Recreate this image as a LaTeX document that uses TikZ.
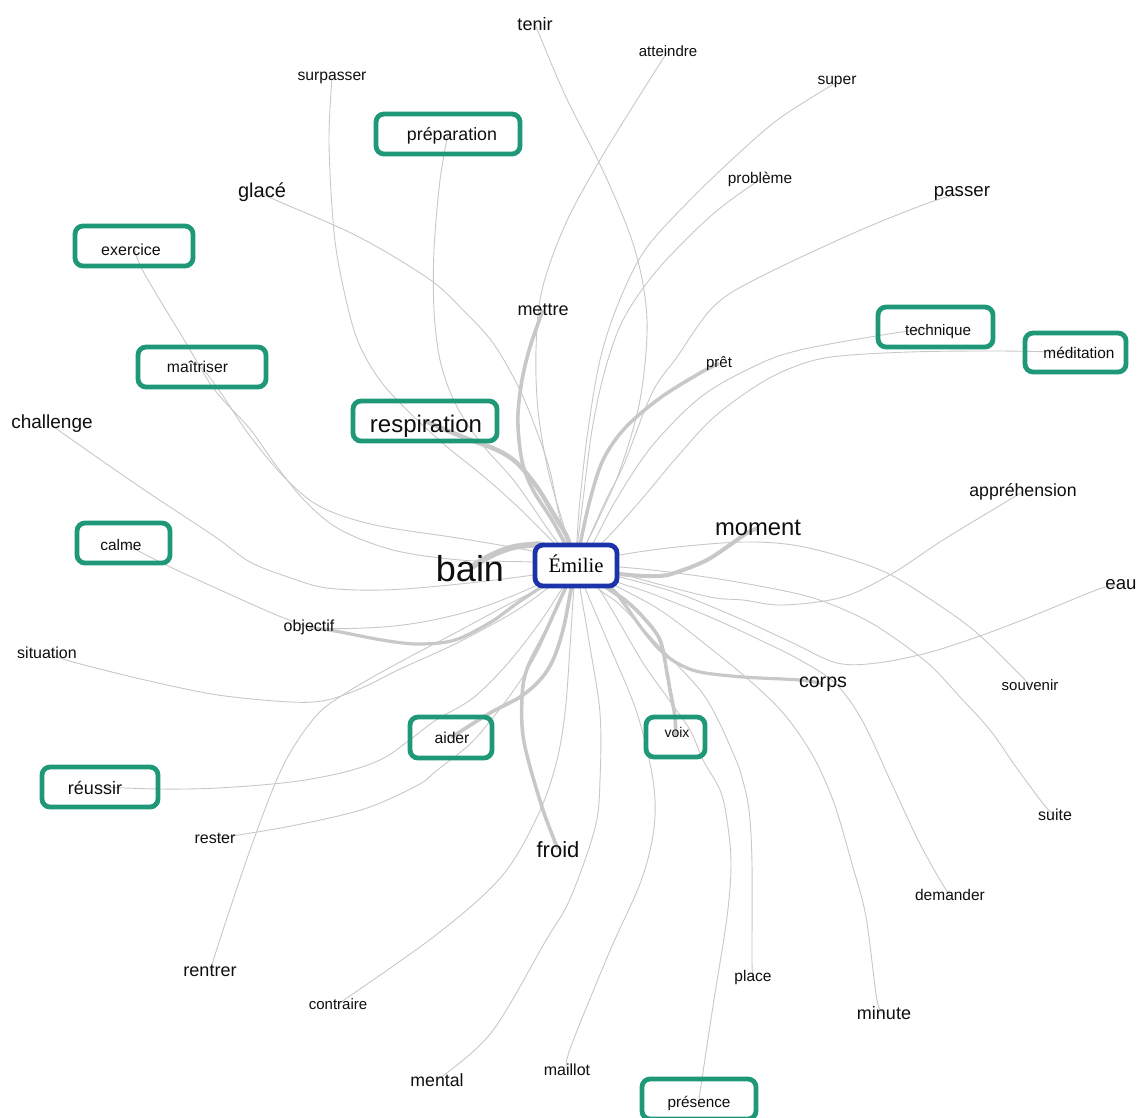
\documentclass[tikz,border=0pt]{standalone}
\usepackage{fontspec}
\setmainfont{Liberation Sans}
\newfontfamily\emfont{Liberation Serif}
\usetikzlibrary{backgrounds}
\definecolor{grn}{RGB}{31,152,120}
\definecolor{blu}{RGB}{28,52,170}
\definecolor{edg}{RGB}{200,200,200}
\definecolor{txt}{RGB}{15,15,15}
\begin{document}
\begin{tikzpicture}[x=1pt,y=-1pt,
  wd/.style={font=\fontsize{#1}{#1}\selectfont, inner sep=0pt, anchor=base, text=txt},
  bx/.style={draw=grn, line width=4.8pt, rounded corners=8pt, inner sep=0pt, text=txt,
             font=\fontsize{#1}{#1}\selectfont, text height=0.72*#1 pt, text depth=0pt},
  edge/.style={draw=edg, line width=0.9pt},
  thk/.style={draw=edg, line width=#1},
  sm/.style={smooth, tension=0.55}
]
\useasboundingbox (0,0) rectangle (1137,1117);

% ---- word nodes
\node[wd=18]   (tenir)      at (535,30.5)  {tenir};
\node[wd=15]   (atteindre)  at (668,56.4)  {atteindre};
\node[wd=15.7] (surpasser)  at (332,80.6)  {surpasser};
\node[wd=15.6] (super)      at (837,84.6)  {super};
\node[wd=20]   (glace)      at (262,197.2) {glacé};
\node[wd=15.4] (probleme)   at (760,183.5) {problème};
\node[wd=18.7] (passer)     at (962,196.7) {passer};
\node[wd=18]   (mettre)     at (543,315.5) {mettre};
\node[wd=15]   (pret)       at (719,367.4) {prêt};
\node[wd=19]   (challenge)  at (52,428.8)  {challenge};
\node[wd=17.7] (apprehension) at (1023,496.4) {appréhension};
\node[wd=23.8] (moment)     at (758,535.6) {moment};
\node[wd=36]   (bain)       at (470,581)   {bain};
\node[wd=18.6] (eau)        at (1121,589.7) {eau};
\node[wd=16]   (objectif)   at (309,631.8) {objectif};
\node[wd=16]   (situation)  at (47,658.8)  {situation};
\node[wd=19.6] (corps)      at (823,687)   {corps};
\node[wd=15]   (souvenir)   at (1030,690.4) {souvenir};
\node[wd=16]   (rester)     at (215,843.8) {rester};
\node[wd=16]   (suite)      at (1055,820.8) {suite};
\node[wd=22]   (froid)      at (558,857)   {froid};
\node[wd=15.5] (demander)   at (950,900.6) {demander};
\node[wd=18]   (rentrer)    at (210,976.5) {rentrer};
\node[wd=15.5] (place)      at (753,981.6) {place};
\node[wd=15]   (contraire)  at (338,1009.4) {contraire};
\node[wd=18]   (minute)     at (884,1019.5) {minute};
\node[wd=17.7] (mental)     at (437,1086.4) {mental};
\node[wd=16]   (maillot)    at (567,1075.8) {maillot};

% ---- boxed nodes
\node[bx=17.8, minimum width=144, minimum height=40] (prep)       at (448,134)    {\hspace*{8pt}préparation};
\node[bx=16,   minimum width=118, minimum height=40, text height=19.5pt] (exercice) at (134,246) {exercice\hspace*{6pt}};
\node[bx=15.2, minimum width=115, minimum height=40, text height=16.9pt] (technique) at (935.5,327) {\hspace*{5pt}technique};
\node[bx=15.4, minimum width=101, minimum height=39] (meditation) at (1075.5,352.5) {\hspace*{7pt}méditation};
\node[bx=15.7, minimum width=128, minimum height=40] (maitriser)  at (202,367)    {maîtriser\hspace*{9pt}};
\node[bx=24,   minimum width=144, minimum height=40, text height=23.3pt] (respiration) at (425,421) {\hspace*{2pt}respiration};
\node[bx=15.4, minimum width=93,  minimum height=40, text height=15.1pt] (calme) at (123.5,543) {calme\hspace*{5pt}};
\node[bx=15.7, minimum width=82,  minimum height=41] (aider)      at (451,737.5)  {\hspace*{2pt}aider};
\node[bx=14,   minimum width=59,  minimum height=40, text depth=10pt] (voix) at (675.5,737) {\hspace*{3pt}voix};
\node[bx=18,   minimum width=116, minimum height=40, text height=15pt] (reussir) at (100,787) {réussir\hspace*{10pt}};
\node[bx=15.3, minimum width=114, minimum height=40, text height=17pt] (presence) at (699,1099) {présence};

% ---- centre
\node[draw=blu, fill=white, line width=4.8pt, rounded corners=8pt, inner sep=0pt,
      minimum width=82, minimum height=41, font=\emfont\fontsize{20.6}{20.6}\selectfont,
      text height=14.5pt, text depth=0pt] (emilie) at (576,565.5) {Émilie};

% ---- connectors
\begin{scope}[on background layer]
\fill[white] (0,0) rectangle (1137,1117);
\draw[edge] plot[sm] coordinates {(tenir.center) (565,95) (605,175) (635,250) (647,320) (640,400) (620,470) (597,522) (582,552) (emilie.center)};
\draw[edge] plot[sm] coordinates {(atteindre.center) (640,95) (600,160) (565,225) (542,290) (536,350) (538,410) (548,470) (565,530) (emilie.center)};
\draw[edge] plot[sm] coordinates {(super.center) (780,118) (738,154) (690,200) (645,250) (618,304) (600,360) (588,430) (580,500) (577,540) (emilie.center)};
\draw[edge] plot[sm] coordinates {(probleme.center) (713,214) (659,268) (624,318) (605,370) (592,430) (583,500) (578,540) (emilie.center)};
\draw[edge] plot[sm] coordinates {(passer.center) (931,202) (856,232) (756,279) (713,307) (677,357) (652,393) (624,464) (606,500) (588,540) (emilie.center)};
\draw[thk=3.5pt] plot[sm] coordinates {(pret.center) (700,373) (660,398) (625,428) (603,460) (590,500) (581,540) (emilie.center)};
\draw[edge] plot[sm] coordinates {(technique.center) (870,337) (800,350) (759,364) (702,396) (652,446) (616,500) (592,545) (emilie.center)};
\draw[edge] plot[sm] coordinates {(meditation.center) (1000,351) (909,352) (831,357) (791,368) (756,386) (713,418) (677,457) (641,500) (605,540) (emilie.center)};
\draw[edge] plot[sm] coordinates {(apprehension.center) (1009,500) (943,540) (893,573) (843,597) (783,605) (743,600) (710,597) (643,580) (620,573) (emilie.center)};
\draw[thk=4pt] plot[sm] coordinates {(moment.center) (747,533) (727,547) (707,560) (683,570) (660,576) (620,574) (emilie.center)};
\draw[edge] plot[sm] coordinates {(souvenir.center) (977,633) (927,597) (887,573) (843,557) (793,545) (743,542) (677,547) (620,555) (emilie.center)};
\draw[edge] plot[sm] coordinates {(eau.center) (1099,589) (1030,617) (977,637) (927,653) (877,663) (837,663) (793,643) (743,620) (677,593) (620,577) (emilie.center)};
\draw[edge] plot[sm] coordinates {(suite.center) (1045,806) (1016,767) (990,730) (960,697) (930,665) (893,637) (860,617) (810,597) (743,583) (677,573) (620,567) (emilie.center)};
\draw[thk=3.2pt] plot[sm] coordinates {(corps.center) (800,680) (743,677) (700,672) (677,663) (660,650) (643,630) (625,605) (610,587) (emilie.center)};
\draw[edge] plot[sm] coordinates {(demander.center) (940,880) (918,840) (890,780) (862,720) (835,683) (800,660) (760,640) (710,617) (650,593) (620,583) (emilie.center)};
\draw[edge] plot[sm] coordinates {(minute.center) (877,1000) (866,917) (852,864) (834,803) (813,756) (784,714) (749,680) (700,640) (660,610) (620,588) (emilie.center)};
\draw[edge] plot[sm] coordinates {(place.center) (752,960) (752,864) (749,810) (741,774) (733,753) (718,720) (700,690) (660,647) (620,605) (600,590) (emilie.center)};
\draw[edge] plot[sm] coordinates {(presence.center) (713,1006) (727,917) (731,864) (727,820) (720,790) (703,760) (690,730) (667,697) (643,663) (615,615) (598,588) (emilie.center)};
\draw[thk=3.6pt] plot[sm] coordinates {(voix.center) (675,717) (670,690) (667,673) (660,640) (643,617) (625,600) (610,590) (emilie.center)};
\draw[edge] plot[sm] coordinates {(maillot.center) (570,1049) (609,953) (641,881) (654,828) (653,780) (637,713) (610,647) (590,600) (emilie.center)};
\draw[edge] plot[sm] coordinates {(mental.center) (491,1033) (545,942) (570,899) (595,828) (600,780) (600,713) (590,647) (582,600) (emilie.center)};
\draw[edge] plot[sm] coordinates {(contraire.center) (436,935) (502,876) (538,815) (556,764) (565,713) (570,647) (573,600) (emilie.center)};
\draw[thk=3.5pt] plot[sm] coordinates {(froid.center) (542,807) (524,742) (522,698) (527,669) (545,633) (560,600) (emilie.center)};
\draw[thk=3.6pt] plot[sm] coordinates {(aider.center) (490,713) (520,697) (540,680) (553,660) (563,630) (570,595) (emilie.center)};
\draw[edge] plot[sm] coordinates {(rester.center) (291,826) (364,809) (418,785) (436,771) (469,745) (491,720) (516,687) (538,651) (560,600) (emilie.center)};
\draw[edge] plot[sm] coordinates {(reussir.center) (160,789) (218,788) (291,782) (345,772) (382,759) (407,742) (436,720) (473,698) (509,662) (545,615) (emilie.center)};
\draw[edge] plot[sm] coordinates {(rentrer.center) (225,924) (255,836) (284,764) (316,716) (349,691) (400,662) (455,633) (509,604) (540,588) (emilie.center)};
\draw[edge] plot[sm] coordinates {(situation.center) (73,662) (145,680) (218,695) (291,702) (327,700) (364,687) (400,669) (455,644) (509,615) (540,594) (emilie.center)};
\draw[thk=3.2pt] plot[sm] coordinates {(objectif.center) (335,631) (382,640) (418,644) (455,640) (491,622) (516,604) (540,588) (emilie.center)};
\draw[edge] plot[sm] coordinates {(calme.center) (164,564) (218,589) (284,618) (320,628) (383,627) (433,620) (483,607) (533,587) (emilie.center)};
\draw[edge] plot[sm] coordinates {(challenge.center) (61,432) (143,489) (214,536) (250,562) (291,578) (327,588) (383,590) (450,585) (533,575) (emilie.center)};
\draw[edge] plot[sm] coordinates {(maitriser.center) (221,393) (250,436) (286,479) (321,507) (375,525) (464,539) (536,552) (emilie.center)};
\draw[edge] plot[sm] coordinates {(exercice.center) (143,271) (186,343) (214,389) (250,429) (275,464) (304,500) (339,529) (393,550) (460,560) (533,562) (emilie.center)};
\draw[edge] plot[sm] coordinates {(glace.center) (271,198) (357,236) (429,279) (464,311) (493,343) (518,386) (536,429) (550,471) (560,518) (emilie.center)};
\draw[edge] plot[sm] coordinates {(surpasser.center) (329,143) (334,232) (343,286) (357,339) (379,379) (411,414) (446,446) (482,475) (518,507) (556,545) (emilie.center)};
\draw[edge] plot[sm] coordinates {(prep.center) (440,180) (434,250) (434,310) (440,360) (455,403) (480,442) (515,482) (552,535) (emilie.center)};
\draw[thk=3.6pt] plot[sm] coordinates {(mettre.center) (530,347) (522,380) (518,413) (519,440) (523,465) (533,490) (555,525) (emilie.center)};
\draw[thk=4.5pt] plot[sm] coordinates {(respiration.center) (463,437) (497,450) (517,463) (537,487) (553,513) (567,537) (emilie.center)};
\draw[thk=6pt] plot[sm] coordinates {(bain.center) (490,556) (510,548) (530,545) (545,546) (emilie.center)};
\end{scope}
\end{tikzpicture}
\end{document}
